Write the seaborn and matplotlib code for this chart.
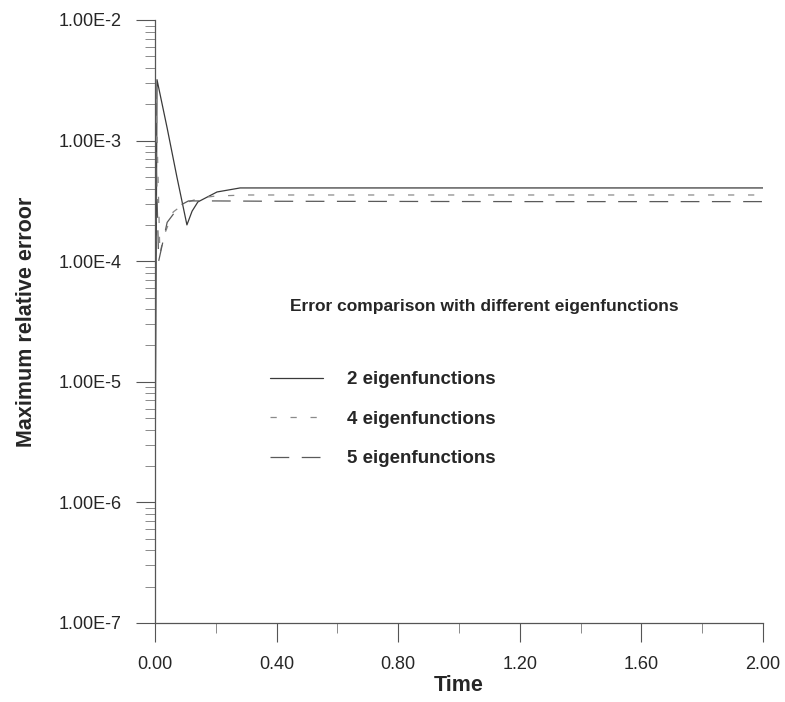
import numpy as np
import pandas as pd
import seaborn as sns
import matplotlib
matplotlib.use("Agg")
import matplotlib.pyplot as plt
from matplotlib.ticker import LogLocator, MultipleLocator, FuncFormatter, NullFormatter

# values (time, maximum relative error)
t_2 = [0.0, 0.0066, 0.04, 0.072, 0.105, 0.122, 0.141, 0.204, 0.28, 0.5, 1.0, 1.5, 2.0]
err_2 = [1.0e-6, 3.2e-3, 1.27e-3, 5.0e-4, 2.0e-4, 2.6e-4, 3.1e-4, 3.75e-4, 4.05e-4,
         4.05e-4, 4.05e-4, 4.05e-4, 4.05e-4]

t_4 = [0.0, 0.004, 0.016, 0.03, 0.06, 0.1, 0.15, 0.2, 0.3, 0.6, 1.0, 1.5, 2.0]
err_4 = [1.0e-5, 2.2e-3, 1.15e-4, 1.64e-4, 2.56e-4, 3.05e-4, 3.35e-4, 3.47e-4, 3.54e-4,
         3.54e-4, 3.54e-4, 3.54e-4, 3.54e-4]

t_5 = [0.0, 0.003, 0.012, 0.04, 0.082, 0.11, 0.2, 0.4, 0.8, 1.2, 1.6, 2.0]
err_5 = [3.0e-5, 8.0e-4, 1.0e-4, 2.1e-4, 2.9e-4, 3.16e-4, 3.16e-4, 3.14e-4, 3.13e-4,
         3.12e-4, 3.12e-4, 3.12e-4]

labels = ["2 eigenfunctions", "4 eigenfunctions", "5 eigenfunctions"]

sns.set_style("ticks")
plt.rcParams["font.family"] = ["Liberation Sans", "DejaVu Sans"]

fig = plt.figure(figsize=(7.85, 7.02), dpi=100)
ax = fig.add_axes([155 / 785, 1 - 623 / 702, 608 / 785, 603 / 702])

sns.lineplot(x=t_2, y=err_2, ax=ax, color="#3a3a3a", lw=0.9, label=labels[0],
             estimator=None, sort=False)
sns.lineplot(x=t_4, y=err_4, ax=ax, color="#8a8a8a", lw=0.9, label=labels[1],
             estimator=None, sort=False)
sns.lineplot(x=t_5, y=err_5, ax=ax, color="#5a5a5a", lw=0.9, label=labels[2],
             estimator=None, sort=False)
lines = ax.get_lines()
lines[1].set_dashes([5, 11])
lines[2].set_dashes([15, 10])

ax.set_yscale("log")
ax.set_ylim(1e-7, 1e-2)
ax.set_xlim(0, 2.0)

ax.xaxis.set_major_locator(MultipleLocator(0.4))
ax.xaxis.set_minor_locator(MultipleLocator(0.2))
ax.xaxis.set_major_formatter(FuncFormatter(lambda v, p: f"{v:.2f}"))
ax.yaxis.set_major_locator(LogLocator(base=10, numticks=10))
ax.yaxis.set_minor_locator(LogLocator(base=10, subs=np.arange(2, 10), numticks=20))
ax.yaxis.set_minor_formatter(NullFormatter())
ax.yaxis.set_major_formatter(FuncFormatter(lambda v, p: f"1.00E{int(round(np.log10(v)))}"))

sns.despine(ax=ax)
for s in ["left", "bottom"]:
    ax.spines[s].set_color("#555555")
    ax.spines[s].set_linewidth(0.9)

ax.tick_params(which="major", direction="out", length=14, width=0.8, color="#555555",
               labelsize=13)
ax.tick_params(axis="y", which="major", pad=10)
ax.tick_params(axis="x", which="major", pad=10)
ax.tick_params(which="minor", direction="out", length=7, width=0.6, color="#777777")

ax.set_xlabel("Time", fontsize=15.5, fontweight="bold", labelpad=1)
ax.set_ylabel("Maximum relative erroor", fontsize=15.5, fontweight="bold")
ax.yaxis.set_label_coords(-0.194, 0.5)

fig.text(290 / 785, 1 - 307 / 702, "Error comparison with different eigenfunctions",
         fontsize=12.5, fontweight="bold", va="center", ha="left")
leg = ax.legend(loc="upper left", bbox_to_anchor=(270 / 785, 1 - 371 / 702),
                bbox_transform=fig.transFigure, frameon=False,
                handlelength=2.8, handletextpad=1.3, labelspacing=1.2,
                borderpad=0, borderaxespad=0, prop={"weight": "bold", "size": 13.5})

fig.savefig("out.png", dpi=100, facecolor="white")
